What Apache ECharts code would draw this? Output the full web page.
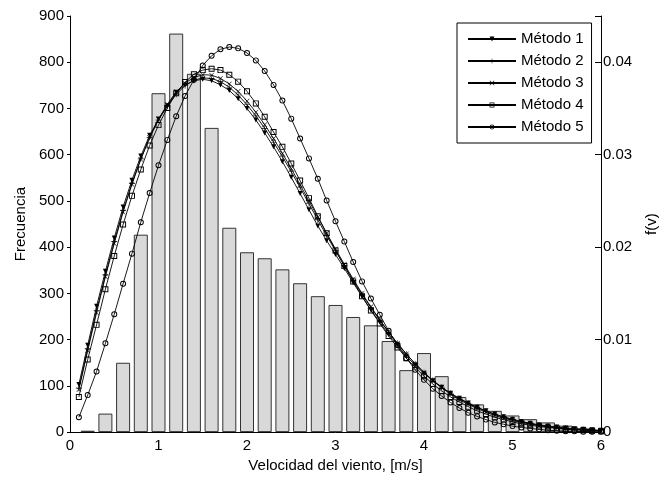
<!DOCTYPE html>
<html>
<head>
<meta charset="utf-8">
<script src="https://cdn.jsdelivr.net/npm/echarts@6/dist/echarts.min.js"></script>
<style>
html, body { margin: 0; padding: 0; background: #fff; }
#chart { width: 667px; height: 478px; }
</style>
</head>
<body>
<div id="chart"></div>
<script>
// histograma de frecuencias (centros de clase, cada 0.2 m/s)
var binCenters = [0.2, 0.4, 0.6, 0.8, 1.0, 1.2, 1.4, 1.6, 1.8, 2.0, 2.2, 2.4, 2.6, 2.8, 3.0,
	3.2, 3.4, 3.6, 3.8, 4.0, 4.2, 4.4, 4.6, 4.8, 5.0, 5.2, 5.4, 5.6, 5.8];
var binCounts = [3, 40, 150, 427, 733, 862, 775, 658, 442, 389, 376, 352, 322, 294, 275,
	249, 231, 197, 134, 171, 121, 76, 60, 46, 36, 28, 21, 14, 8];

// velocidades donde se evalua f(v): 0.1 ... 6.0
var speeds = [0.1, 0.2, 0.3, 0.4, 0.5, 0.6, 0.7, 0.8, 0.9, 1.0,
	1.1, 1.2, 1.3, 1.4, 1.5, 1.6, 1.7, 1.8, 1.9, 2.0,
	2.1, 2.2, 2.3, 2.4, 2.5, 2.6, 2.7, 2.8, 2.9, 3.0,
	3.1, 3.2, 3.3, 3.4, 3.5, 3.6, 3.7, 3.8, 3.9, 4.0,
	4.1, 4.2, 4.3, 4.4, 4.5, 4.6, 4.7, 4.8, 4.9, 5.0,
	5.1, 5.2, 5.3, 5.4, 5.5, 5.6, 5.7, 5.8, 5.9, 6.0];

var metodo1 = [0.00515, 0.0094, 0.0136, 0.0174, 0.021, 0.02435, 0.02725, 0.02985, 0.0321, 0.03385,
	0.0353, 0.03675, 0.03755, 0.038, 0.03815, 0.038, 0.03755, 0.03695, 0.03605, 0.035,
	0.03375, 0.03235, 0.03085, 0.02925, 0.02755, 0.0258, 0.02405, 0.0223, 0.0207, 0.0192,
	0.0177, 0.01615, 0.01465, 0.0132, 0.0119, 0.01055, 0.00945, 0.0082, 0.00725, 0.00635,
	0.00555, 0.00485, 0.0042, 0.00365, 0.00315, 0.0027, 0.0023, 0.00195, 0.00165, 0.0014,
	0.00115, 0.00095, 0.0008, 0.00065, 0.00055, 0.00045, 0.00035, 0.0003, 0.00025, 0.0002];
var metodo2 = [0.00475, 0.009, 0.01315, 0.017, 0.0206, 0.02395, 0.0269, 0.02955, 0.03185, 0.03375,
	0.03525, 0.03655, 0.03745, 0.03805, 0.0383, 0.03825, 0.0379, 0.0373, 0.03645, 0.0354,
	0.0342, 0.03285, 0.03135, 0.0298, 0.02815, 0.02645, 0.0247, 0.02295, 0.02125, 0.0196,
	0.018, 0.0164, 0.0149, 0.01345, 0.0121, 0.0108, 0.0096, 0.00845, 0.0074, 0.00645,
	0.0056, 0.00485, 0.0042, 0.0036, 0.0031, 0.00265, 0.00225, 0.0019, 0.0016, 0.00135,
	0.0011, 0.0009, 0.00075, 0.0006, 0.0005, 0.0004, 0.0003, 0.00025, 0.0002, 0.00015];
var metodo3 = [0.0046, 0.0088, 0.0129, 0.0168, 0.0204, 0.0238, 0.0268, 0.0295, 0.03185, 0.03385,
	0.03545, 0.0368, 0.03775, 0.03835, 0.03865, 0.0386, 0.03825, 0.03765, 0.03685, 0.0358,
	0.0346, 0.03325, 0.03175, 0.03015, 0.0285, 0.02675, 0.025, 0.02325, 0.0215, 0.0198,
	0.01815, 0.01655, 0.015, 0.01355, 0.01215, 0.01085, 0.0096, 0.00845, 0.0074, 0.00645,
	0.00555, 0.0048, 0.0041, 0.0035, 0.003, 0.00255, 0.00215, 0.0018, 0.0015, 0.00125,
	0.00105, 0.00085, 0.0007, 0.00055, 0.00045, 0.00035, 0.0003, 0.00025, 0.0002, 0.00015];
var metodo4 = [0.0038, 0.00785, 0.0116, 0.01545, 0.01905, 0.02245, 0.02555, 0.0284, 0.031, 0.0332,
	0.03505, 0.03665, 0.03785, 0.0387, 0.03915, 0.0393, 0.03915, 0.03865, 0.0379, 0.03685,
	0.03555, 0.0341, 0.03245, 0.03085, 0.02905, 0.0272, 0.0253, 0.02335, 0.0215, 0.01965,
	0.01795, 0.0163, 0.0147, 0.01315, 0.01175, 0.0104, 0.00915, 0.008, 0.007, 0.00605,
	0.0052, 0.00445, 0.0038, 0.00325, 0.00275, 0.0023, 0.00195, 0.0016, 0.00135, 0.0011,
	0.0009, 0.00075, 0.0006, 0.0005, 0.0004, 0.0003, 0.00025, 0.0002, 0.00015, 0.0001];
var metodo5 = [0.0016, 0.004, 0.00655, 0.0096, 0.01275, 0.01605, 0.0193, 0.0227, 0.02585, 0.02885,
	0.0316, 0.03415, 0.03635, 0.0381, 0.03965, 0.0407, 0.0414, 0.04165, 0.0415, 0.041,
	0.0402, 0.03905, 0.03755, 0.03585, 0.0339, 0.03175, 0.0296, 0.0274, 0.02505, 0.0228,
	0.0206, 0.0184, 0.0163, 0.01445, 0.0127, 0.01095, 0.0094, 0.008, 0.00675, 0.00565,
	0.0047, 0.0039, 0.0032, 0.0026, 0.0021, 0.0017, 0.00135, 0.00105, 0.00085, 0.00065,
	0.0005, 0.0004, 0.0003, 0.0002, 0.00015, 0.0001, 0.0001, 0.00005, 0.00005, 0.00005];

var myChart = echarts.init(document.getElementById('chart'));

function pares(xs, ys) {
	var out = [];
	for (var i = 0; i < xs.length; i++) {
		out.push([xs[i], ys[i]]);
	}
	return out;
}

var fuente = 'Liberation Sans, Arial, sans-serif';
var negro = '#000';

// marcadores huecos (sin relleno, como en matlab)
var cuadroHueco = 'path://M0,0H10V10H0Z M1.6,1.6V8.4H8.4V1.6Z';
var circuloHueco = 'path://M5,0A5,5 0 1,1 5,10A5,5 0 1,1 5,0Z M5,1.6A3.4,3.4 0 1,0 5,8.4A3.4,3.4 0 1,0 5,1.6Z';
var mas = 'path://M4.5,0H5.5V10H4.5Z M0,4.5H10V5.5H0Z';
var equis = 'path://M0,0.8L0.8,0L5,4.2L9.2,0L10,0.8L5.8,5L10,9.2L9.2,10L5,5.8L0.8,10L0,9.2L4.2,5Z';

function curva(nombre, datos, simbolo, tam) {
	return {
		name: nombre,
		type: 'line',
		yAxisIndex: 1,
		data: pares(speeds, datos),
		symbol: simbolo,
		symbolSize: tam,
		symbolKeepAspect: true,
		symbolRotate: simbolo === 'triangle' ? 180 : 0,
		showSymbol: true,
		z: 3,
		lineStyle: { color: negro, width: 0.9 },
		itemStyle: { color: negro, borderWidth: 0 }
	};
}

var option = {
	animation: false,
	backgroundColor: '#fff',
	textStyle: { fontFamily: fuente },
	grid: { left: 70, right: 65, top: 16, bottom: 45 },
	legend: {
		orient: 'vertical',
		left: 457,
		top: 23,
		padding: [8, 8, 8, 10],
		itemWidth: 48,
		itemHeight: 6,
		itemGap: 6,
		backgroundColor: '#fff',
		borderColor: '#000',
		borderWidth: 1,
		textStyle: { fontSize: 15, lineHeight: 16, color: '#000', fontFamily: fuente },
		data: ['Método 1', 'Método 2', 'Método 3', 'Método 4', 'Método 5']
	},
	xAxis: {
		type: 'value',
		min: 0,
		max: 6,
		interval: 1,
		name: 'Velocidad del viento, [m/s]',
		nameLocation: 'middle',
		nameGap: 25,
		nameTextStyle: { fontSize: 15, color: '#000' },
		axisLine: { lineStyle: { color: negro } },
		axisTick: { inside: true, length: 6, lineStyle: { color: negro } },
		axisLabel: { fontSize: 15, color: '#000', margin: 6 },
		splitLine: { show: false }
	},
	yAxis: [
		{
			type: 'value',
			min: 0,
			max: 900,
			interval: 100,
			name: 'Frecuencia',
			nameLocation: 'middle',
			nameGap: 42,
			nameTextStyle: { fontSize: 15, color: '#000' },
			axisLine: { show: true, lineStyle: { color: negro } },
			axisTick: { show: true, length: 3, lineStyle: { color: negro } },
			axisLabel: { fontSize: 15, color: '#000', margin: 6 },
			splitLine: { show: false }
		},
		{
			type: 'value',
			position: 'right',
			min: 0,
			max: 0.045,
			interval: 0.01,
			name: 'f(v)',
			nameLocation: 'middle',
			nameGap: 43,
			nameRotate: 90,
			nameTextStyle: { fontSize: 15, color: '#000' },
			axisLine: { show: true, lineStyle: { color: negro } },
			axisTick: { show: true, inside: true, length: 6, lineStyle: { color: negro } },
			axisLabel: {
				fontSize: 15, color: '#000', margin: 2,
				formatter: function (v) {
					if (v > 0.0441) { return ''; }
					return v === 0 ? '0' : String(+v.toFixed(2));
				}
			},
			splitLine: { show: false }
		}
	],
	series: [
		{
			name: 'Frecuencia',
			type: 'bar',
			yAxisIndex: 0,
			data: pares(binCenters, binCounts),
			barWidth: 14,
			z: 1,
			itemStyle: { color: '#d9d9d9', borderColor: '#333', borderWidth: 1 }
		},
		curva('Método 1', metodo1, 'triangle', 5),
		curva('Método 2', metodo2, mas, 6),
		curva('Método 3', metodo3, equis, 5),
		curva('Método 4', metodo4, cuadroHueco, 6),
		curva('Método 5', metodo5, circuloHueco, 6)
	]
};

myChart.setOption(option);
</script>
</body>
</html>
